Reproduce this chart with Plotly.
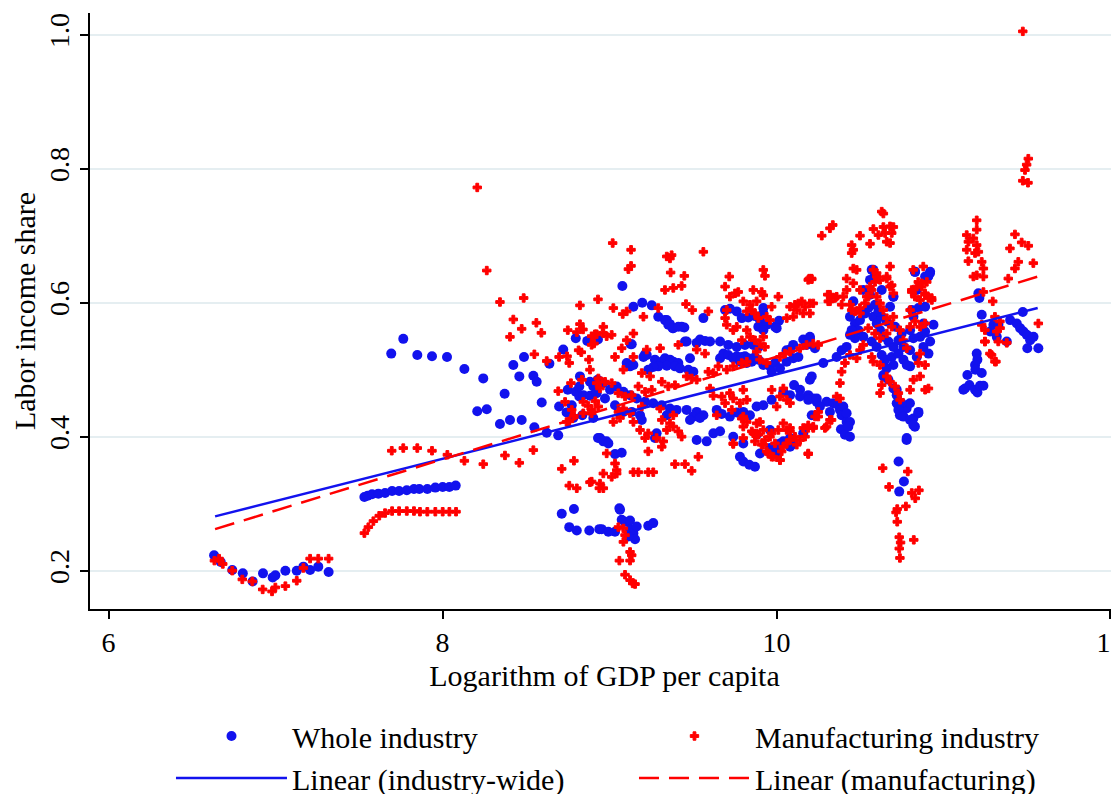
import plotly.graph_objects as go

# ---------------- data ----------------
# Whole industry (blue dots), split by visual clusters
whole_x_a = [6.632, 6.672, 6.741, 6.804, 6.863, 6.925, 6.983, 6.999, 7.059, 7.127, 7.167, 7.207, 7.256, 7.318]
whole_y_a = [0.223, 0.213, 0.201, 0.196, 0.184, 0.196, 0.190, 0.193, 0.200, 0.200, 0.206, 0.201, 0.206, 0.198]

whole_x_b = [7.532, 7.552, 7.578, 7.616, 7.656, 7.698, 7.740, 7.786, 7.829, 7.861, 7.909, 7.957, 8.001, 8.041, 8.079]
whole_y_b = [0.310, 0.312, 0.314, 0.315, 0.316, 0.319, 0.319, 0.320, 0.322, 0.322, 0.322, 0.324, 0.325, 0.325, 0.327]

whole_x_c = [7.765, 7.693, 7.849, 7.937, 8.027, 8.131, 8.244, 8.208, 8.265, 8.372, 8.344, 8.404, 8.474, 8.488, 8.424,
             8.460, 8.544, 8.564, 8.594, 8.550, 8.640, 8.723, 8.798, 8.867, 8.931, 8.624, 8.693, 8.698, 8.750, 8.798,
             8.819, 8.819, 8.843, 8.883, 8.903, 8.774, 8.743, 8.783, 8.837, 8.823, 8.929, 8.903, 8.931]
whole_y_c = [0.546, 0.524, 0.522, 0.520, 0.519, 0.501, 0.487, 0.438, 0.441, 0.464, 0.419, 0.425, 0.425, 0.519, 0.507,
             0.490, 0.491, 0.482, 0.451, 0.414, 0.509, 0.530, 0.547, 0.543, 0.545, 0.406, 0.402, 0.445, 0.470, 0.467,
             0.475, 0.460, 0.462, 0.461, 0.475, 0.447, 0.436, 0.428, 0.432, 0.490, 0.485, 0.428, 0.398]

whole_x_d = [8.714, 8.787, 8.759, 8.804, 8.879, 8.939, 8.953, 8.993, 9.033, 9.059, 9.063, 9.073, 9.093, 9.123, 9.123,
             9.143, 9.153, 9.163, 9.113, 9.232, 9.262]
whole_y_d = [0.285, 0.292, 0.265, 0.260, 0.260, 0.262, 0.262, 0.258, 0.258, 0.293, 0.291, 0.276, 0.273, 0.275, 0.261,
             0.256, 0.247, 0.266, 0.251, 0.267, 0.271]

whole_x_e = [9.077, 9.143, 9.196, 9.253, 9.292, 9.332, 9.352, 9.382, 9.432, 9.452, 9.562, 9.127, 9.213, 9.343, 9.362,
             9.378, 9.412, 9.448, 9.692, 9.721, 9.762, 9.792, 9.831, 9.871, 9.921, 9.921, 9.901, 9.941, 9.891, 9.921,
             9.991, 10.015, 10.001]
whole_y_e = [0.625, 0.594, 0.600, 0.596, 0.579, 0.574, 0.567, 0.562, 0.564, 0.542, 0.577, 0.538, 0.523, 0.574, 0.568,
             0.562, 0.564, 0.563, 0.589, 0.591, 0.587, 0.577, 0.578, 0.580, 0.592, 0.584, 0.574, 0.567, 0.564, 0.559,
             0.564, 0.573, 0.562]

whole_x_f = [9.542, 9.572, 9.602, 9.522, 9.462, 9.662, 9.711, 9.762, 9.811, 9.861, 9.891, 9.133, 10.20, 10.16, 10.18,
             10.10, 10.08, 10.06, 9.223, 9.272, 9.313, 9.332, 9.362, 9.382, 9.412, 9.343, 9.392, 9.292, 9.262, 9.232,
             9.103, 9.123, 9.143, 9.203, 9.482, 9.472, 9.502, 9.422, 9.662, 9.682, 9.711, 9.741, 9.762, 9.792, 9.811,
             9.831, 9.781, 9.822, 9.852, 9.871, 9.891, 9.921, 9.961, 9.991, 10.021, 9.971, 10.061, 10.101, 10.131]
whole_y_f = [0.545, 0.543, 0.542, 0.540, 0.542, 0.542, 0.537, 0.534, 0.537, 0.537, 0.533, 0.538, 0.549, 0.545, 0.537,
             0.537, 0.530, 0.529, 0.522, 0.515, 0.512, 0.517, 0.515, 0.512, 0.510, 0.506, 0.505, 0.505, 0.504, 0.500,
             0.510, 0.505, 0.507, 0.519, 0.517, 0.500, 0.497, 0.502, 0.517, 0.524, 0.522, 0.517, 0.520, 0.519, 0.520,
             0.517, 0.512, 0.510, 0.512, 0.519, 0.515, 0.507, 0.505, 0.510, 0.502, 0.497, 0.512, 0.517, 0.519]

whole_x_g = [10.105, 10.141, 10.19, 10.22, 10.241, 8.883, 8.923, 8.963, 8.923, 8.973, 9.003, 9.043, 9.083, 9.123, 9.163,
             9.213, 9.262, 9.313, 9.362, 9.402, 9.343, 9.033, 9.083, 9.133, 9.183, 9.193, 9.462, 9.522, 9.562, 9.502,
             9.542, 9.482, 9.642, 9.672, 9.721, 9.762, 9.801, 9.841, 9.881, 9.921, 9.971, 10.041, 10.081, 10.141, 10.19,
             10.241]
whole_y_g = [0.477, 0.470, 0.462, 0.457, 0.452, 0.482, 0.477, 0.480, 0.465, 0.457, 0.470, 0.475, 0.467, 0.462, 0.457,
             0.452, 0.450, 0.447, 0.442, 0.440, 0.432, 0.447, 0.437, 0.437, 0.432, 0.425, 0.440, 0.437, 0.432, 0.430,
             0.428, 0.425, 0.440, 0.434, 0.430, 0.436, 0.437, 0.432, 0.445, 0.447, 0.455, 0.467, 0.462, 0.460, 0.455,
             0.457]

whole_x_h = [8.943, 8.982, 9.522, 9.582, 9.622, 9.662, 9.741, 9.801, 9.881, 9.961, 10.021, 10.081, 10.16, 9.282, 9.272,
             8.963, 8.993, 9.033, 9.073, 9.781, 9.801, 9.837, 9.871, 9.901, 9.961, 10.001, 10.011, 10.041, 10.081, 10.091]
whole_y_h = [0.398, 0.393, 0.395, 0.393, 0.405, 0.408, 0.400, 0.390, 0.403, 0.410, 0.390, 0.398, 0.405, 0.405, 0.398,
             0.393, 0.390, 0.374, 0.376, 0.370, 0.363, 0.358, 0.355, 0.375, 0.383, 0.375, 0.385, 0.393, 0.385, 0.388]

whole_x_i = [10.30, 10.34, 10.37, 10.38, 10.40, 10.39, 10.42, 10.42, 10.44, 10.386, 10.41, 10.32, 10.26, 10.211, 10.211,
             10.2, 10.43, 10.44]
whole_y_i = [0.452, 0.450, 0.447, 0.440, 0.445, 0.432, 0.435, 0.422, 0.422, 0.411, 0.403, 0.437, 0.445, 0.432, 0.490,
             0.485, 0.415, 0.400]

whole_x_j = [10.57, 10.59, 10.56, 10.63, 10.70, 10.68, 10.52, 10.46, 10.44, 10.47, 10.50, 10.53, 10.55, 10.58, 10.60,
             10.62, 10.64, 10.67, 10.70, 10.73, 10.75, 10.71, 10.66, 10.63, 10.61, 10.59, 10.49, 10.47, 10.52, 10.57,
             10.60, 10.63, 10.65, 10.69, 10.73, 10.76, 10.80, 10.76, 10.70, 10.66, 10.64, 10.80, 10.84, 10.88, 10.91,
             10.92, 10.86, 10.82, 10.80, 10.82, 10.85, 10.89, 10.81, 10.84, 10.89, 10.92, 10.83, 10.94, 10.88, 10.89,
             10.78, 10.20, 10.23, 10.28, 10.36, 10.39, 10.42, 10.44, 10.45, 10.58, 10.829, 10.919, 10.909, 10.56, 10.70]
whole_y_j = [0.649, 0.641, 0.634, 0.619, 0.609, 0.594, 0.619, 0.602, 0.579, 0.569, 0.574, 0.584, 0.592, 0.579, 0.569,
             0.559, 0.549, 0.542, 0.534, 0.544, 0.554, 0.564, 0.572, 0.579, 0.587, 0.597, 0.559, 0.547, 0.549, 0.542,
             0.534, 0.522, 0.515, 0.519, 0.524, 0.534, 0.529, 0.515, 0.507, 0.502, 0.492, 0.505, 0.519, 0.534, 0.524,
             0.542, 0.549, 0.547, 0.559, 0.579, 0.592, 0.594, 0.589, 0.619, 0.639, 0.646, 0.646, 0.567, 0.569, 0.557,
             0.507, 0.547, 0.532, 0.510, 0.519, 0.529, 0.534, 0.552, 0.559, 0.649, 0.646, 0.644, 0.639, 0.612, 0.609]

whole_x_k = [10.64, 10.67, 10.70, 10.72, 10.72, 10.729, 10.739, 10.779, 10.799, 10.819, 10.829, 10.849, 10.779, 10.731,
             10.763, 10.735, 10.72, 10.75, 10.73, 10.76, 10.80, 10.82, 10.85, 10.78]
whole_y_k = [0.490, 0.485, 0.472, 0.462, 0.450, 0.447, 0.432, 0.442, 0.450, 0.427, 0.415, 0.435, 0.395, 0.363,
             0.333, 0.318, 0.470, 0.450, 0.440, 0.430, 0.425, 0.417, 0.437, 0.398]

whole_x_l = [11.209, 11.215, 11.229, 11.475, 11.279, 11.299, 11.329, 11.319, 11.379, 11.399, 11.439, 11.459, 11.479,
             11.499, 11.519, 11.539, 11.502, 11.568, 11.199, 11.203, 11.189, 11.191, 11.229, 11.143, 11.129, 11.119,
             11.155, 11.189, 11.203, 11.219, 11.239]
whole_y_l = [0.614, 0.607, 0.582, 0.586, 0.557, 0.567, 0.567, 0.549, 0.542, 0.574, 0.569, 0.562, 0.557,
             0.552, 0.544, 0.549, 0.532, 0.532, 0.524, 0.515, 0.507, 0.500, 0.495, 0.492, 0.472, 0.470,
             0.477, 0.470, 0.466, 0.476, 0.476]

# Manufacturing industry (red markers)
manuf_x_a = [6.634, 6.662, 6.684, 6.741, 6.801, 6.861, 6.923, 6.979, 6.999, 7.059, 7.127, 7.167, 7.207, 7.256, 7.318]
manuf_y_a = [0.215, 0.218, 0.210, 0.200, 0.187, 0.184, 0.172, 0.169, 0.175, 0.177, 0.185, 0.204, 0.218, 0.218, 0.218]

manuf_x_b = [7.532, 7.556, 7.586, 7.621, 7.656, 7.698, 7.740, 7.786, 7.829, 7.865, 7.909, 7.957, 8.001, 8.041, 8.081]
manuf_y_b = [0.256, 0.265, 0.274, 0.282, 0.286, 0.289, 0.289, 0.289, 0.289, 0.288, 0.288, 0.288, 0.288, 0.288, 0.288]

manuf_x_c = [7.696, 7.765, 7.849, 7.937, 8.029, 8.131, 8.244, 8.374, 8.460, 8.544, 8.714, 8.787, 8.759, 8.804, 8.883, 8.939]
manuf_y_c = [0.379, 0.383, 0.383, 0.379, 0.373, 0.364, 0.359, 0.372, 0.361, 0.380, 0.352, 0.364, 0.327, 0.323, 0.332, 0.323]

manuf_x_d = [8.208, 8.265, 8.344, 8.486, 8.424, 8.562, 8.474, 8.592, 8.404, 8.550, 8.624, 8.698, 8.746, 8.759, 8.750,
             8.804, 8.841, 8.823, 8.823, 8.931, 8.815, 8.831, 8.877, 8.883, 8.769, 8.835, 8.693, 8.734, 8.843, 8.873,
             8.915, 8.923, 8.923, 8.893, 8.907, 8.774, 8.787, 8.743, 8.843, 8.893, 8.759]
manuf_y_d = [0.772, 0.648, 0.601, 0.607, 0.575, 0.570, 0.561, 0.555, 0.549, 0.523, 0.513, 0.519, 0.520, 0.510, 0.559,
             0.556, 0.560, 0.596, 0.568, 0.605, 0.529, 0.526, 0.515, 0.500, 0.480, 0.485, 0.468, 0.452, 0.452, 0.446,
             0.453, 0.480, 0.553, 0.537, 0.539, 0.440, 0.431, 0.422, 0.435, 0.435, 0.423]

manuf_x_e = [9.019, 9.129, 9.113, 9.129, 9.343, 9.372, 9.362, 9.366, 9.332, 9.382, 9.432, 9.448, 9.562, 9.023, 9.079,
             9.103, 9.203, 9.143, 9.013, 8.959, 8.913, 9.103, 9.073, 9.223, 9.458, 9.496, 9.592, 9.292]
manuf_y_e = [0.689, 0.679, 0.650, 0.655, 0.669, 0.671, 0.666, 0.645, 0.619, 0.622, 0.625, 0.640, 0.676, 0.592, 0.583,
             0.587, 0.579, 0.554, 0.552, 0.555, 0.553, 0.544, 0.532, 0.530, 0.598, 0.589, 0.587, 0.592]

manuf_x_f = [9.717, 9.692, 9.752, 9.771, 9.721, 9.801, 9.841, 9.881, 9.861, 9.921, 9.931, 9.911, 9.921, 9.971, 10.011,
             9.822, 9.852, 9.871, 9.891, 9.941, 9.961, 9.702, 9.692, 9.702, 9.741, 9.762, 9.822, 9.792, 9.841, 9.871,
             9.901, 9.921, 9.931, 9.881, 10.081, 10.111, 10.131, 10.151, 10.171, 10.121, 10.16, 10.2, 10.19, 10.21,
             10.061, 10.101]
manuf_y_f = [0.639, 0.624, 0.614, 0.616, 0.609, 0.602, 0.597, 0.602, 0.619, 0.649, 0.640, 0.616, 0.611, 0.594, 0.609,
             0.587, 0.589, 0.584, 0.577, 0.579, 0.574, 0.589, 0.577, 0.567, 0.559, 0.564, 0.559, 0.544, 0.549, 0.544,
             0.539, 0.549, 0.534, 0.527, 0.594, 0.597, 0.599, 0.602, 0.594, 0.589, 0.584, 0.599, 0.634, 0.636,
             0.577, 0.579]

manuf_x_g = [8.893, 8.963, 8.983, 9.143, 9.033, 9.083, 9.193, 9.243, 9.303, 9.412, 9.522, 9.572, 9.313, 9.352, 9.392,
             9.462, 9.492, 9.522, 9.592, 9.622, 9.652, 9.702, 9.741, 9.792, 9.822, 9.901, 9.941, 10.021, 10.051, 10.081,
             10.141, 10.18, 10.22, 10.25, 8.933, 8.973, 9.013, 8.943, 9.053, 9.093, 9.133, 9.173, 9.213, 9.253]
manuf_y_g = [0.550, 0.564, 0.550, 0.519, 0.519, 0.500, 0.495, 0.490, 0.532, 0.537, 0.530, 0.524, 0.482, 0.475, 0.477,
             0.490, 0.487, 0.485, 0.497, 0.495, 0.505, 0.500, 0.505, 0.510, 0.512, 0.515, 0.510, 0.519, 0.524, 0.527,
             0.532, 0.537, 0.539, 0.537, 0.487, 0.482, 0.480, 0.472, 0.465, 0.460, 0.462, 0.475, 0.467, 0.470]

manuf_x_h = [8.893, 8.933, 9.023, 9.063, 9.143, 9.193, 9.303, 9.382, 9.313, 9.362, 9.343, 9.382, 9.412, 9.282, 9.322,
             9.432, 9.602, 9.622, 9.672, 9.721, 9.741, 9.781, 9.822, 9.642, 9.692, 9.732, 9.801, 9.822, 9.881, 9.921,
             9.971, 10.011, 10.041, 10.081, 10.111, 10.16, 10.19, 10.231, 9.741, 9.801, 9.852, 9.881, 9.931, 9.991,
             10.061, 10.121, 9.083, 9.123, 9.053, 9.183, 9.232, 9.213]
manuf_y_h = [0.440, 0.445, 0.422, 0.428, 0.422, 0.445, 0.442, 0.432, 0.425, 0.420, 0.410, 0.415, 0.408, 0.398, 0.393,
             0.400, 0.472, 0.461, 0.460, 0.465, 0.457, 0.450, 0.455, 0.432, 0.450, 0.440, 0.430, 0.422, 0.420, 0.410,
             0.405, 0.410, 0.420, 0.408, 0.400, 0.413, 0.417, 0.430, 0.390, 0.398, 0.408, 0.405, 0.395, 0.390,
             0.390, 0.388, 0.442, 0.435, 0.437, 0.410, 0.405, 0.398]

manuf_x_i = [8.983, 8.963, 9.013, 9.033, 9.043, 9.043, 8.943, 8.963, 8.893, 9.143, 9.173, 9.232, 9.262, 9.232, 9.313,
             9.392, 9.452, 9.492, 9.532, 9.741, 9.871, 9.921, 9.941, 9.971, 10.021, 10.19, 9.053, 9.083, 9.093, 9.083,
             9.123, 9.133, 9.123, 9.059, 9.093, 9.123, 9.139, 9.153]
manuf_y_i = [0.375, 0.345, 0.340, 0.360, 0.350, 0.345, 0.330, 0.323, 0.333, 0.347, 0.347, 0.347, 0.347, 0.378, 0.385,
             0.359, 0.359, 0.349, 0.370, 0.389, 0.393, 0.388, 0.378, 0.370, 0.365, 0.374, 0.265, 0.263, 0.253, 0.243,
             0.228, 0.223, 0.215, 0.215, 0.194, 0.186, 0.181, 0.180]

manuf_x_j = [9.801, 9.792, 9.801, 9.861, 9.891, 9.901, 9.961, 9.971, 10.001, 10.021, 10.041, 10.061, 10.081, 10.061,
             10.081, 10.081, 10.041, 10.031, 10.021, 9.981, 9.951, 9.911, 10.141, 10.171, 10.19, 10.22, 10.25, 10.25,
             10.3, 10.33, 10.36, 10.38, 10.19, 10.22, 10.29, 10.32, 10.38]
manuf_y_j = [0.470, 0.427, 0.415, 0.405, 0.403, 0.422, 0.400, 0.470, 0.445, 0.460, 0.472, 0.455, 0.450, 0.410,
             0.413, 0.395, 0.385, 0.378, 0.365, 0.370, 0.375, 0.388, 0.395, 0.400, 0.413, 0.415, 0.437, 0.430,
             0.415, 0.425, 0.460, 0.457, 0.375, 0.413, 0.413, 0.425, 0.480]

manuf_x_k = [10.63, 10.64, 10.337, 10.32, 10.271, 10.58, 10.64, 10.68, 10.70, 10.50, 10.61, 10.65, 10.69, 10.45, 10.46,
             10.45, 10.56, 10.66, 10.68, 10.196, 10.211, 10.307, 10.36, 10.32, 10.44, 10.47, 10.50, 10.58, 10.60, 10.59,
             10.66, 10.68, 10.69, 10.70, 10.57, 10.54, 10.819, 10.879, 10.849, 10.869, 10.889, 10.81, 10.829, 10.929]
manuf_y_k = [0.736, 0.733, 0.716, 0.711, 0.700, 0.710, 0.713, 0.714, 0.713, 0.700, 0.701, 0.704, 0.704, 0.686, 0.679,
             0.674, 0.688, 0.691, 0.689, 0.636, 0.635, 0.612, 0.609, 0.602, 0.597, 0.587, 0.584, 0.649, 0.639, 0.631,
             0.636, 0.654, 0.626, 0.614, 0.619, 0.609, 0.649, 0.654, 0.631, 0.624, 0.614, 0.619, 0.609, 0.607]

manuf_x_l = [10.46, 10.48, 10.42, 10.46, 10.50, 10.42, 10.40, 10.35, 10.32, 10.31, 10.39, 10.45, 10.50, 10.53, 10.55,
             10.56, 10.60, 10.62, 10.66, 10.68, 10.60, 10.62, 10.64, 10.66, 10.70, 10.69, 10.66, 10.62, 10.59, 10.55,
             10.52, 10.50, 10.48, 10.41, 10.39, 10.44, 10.58, 10.57, 10.62, 10.66, 10.63, 10.62, 10.68, 10.71, 10.73,
             10.74, 10.80, 10.82, 10.86, 10.89, 10.91, 10.85, 10.89, 10.86, 10.89, 10.86, 10.83, 10.80, 10.80, 10.86,
             10.89, 10.91, 10.84, 10.81, 10.87, 10.90, 10.93, 10.74, 10.76, 10.78, 10.22, 10.20]
manuf_y_l = [0.651, 0.649, 0.636, 0.629, 0.619, 0.619, 0.609, 0.607, 0.612, 0.602, 0.597, 0.589, 0.592, 0.599, 0.609,
             0.624, 0.644, 0.634, 0.639, 0.624, 0.609, 0.599, 0.589, 0.577, 0.579, 0.564, 0.554, 0.547, 0.554, 0.562,
             0.537, 0.529, 0.517, 0.510, 0.497, 0.522, 0.512, 0.519, 0.507, 0.490, 0.477, 0.465, 0.482, 0.475, 0.465,
             0.455, 0.470, 0.485, 0.490, 0.470, 0.472, 0.510, 0.507, 0.524, 0.569, 0.564, 0.572, 0.564, 0.589, 0.604,
             0.612, 0.607, 0.624, 0.616, 0.629, 0.631, 0.604, 0.559, 0.544, 0.532, 0.599, 0.584]

manuf_x_m = [10.636, 10.786, 10.674, 10.81, 10.853, 10.831, 10.775, 10.723, 10.716, 10.723, 10.735, 10.743, 10.735,
             10.739, 10.822]
manuf_y_m = [0.353, 0.348, 0.325, 0.316, 0.320, 0.308, 0.296, 0.292, 0.287, 0.273, 0.250, 0.242, 0.233,
             0.219, 0.246]

manuf_x_n = [11.199, 11.199, 11.139, 11.179, 11.149, 11.199, 11.139, 11.189, 11.209, 11.149, 11.229, 11.239, 11.179,
             11.199, 11.239, 11.428, 11.468, 11.398, 11.508, 11.448, 11.428, 11.538, 11.388, 11.239, 11.295, 11.308,
             11.338, 11.328, 11.278, 11.308, 11.248, 11.568, 11.248, 11.229, 11.248, 11.288, 11.314, 11.379, 11.319,
             11.339, 11.475, 11.508, 11.498, 11.488, 11.475, 11.506]
manuf_y_n = [0.723, 0.709, 0.701, 0.696, 0.691, 0.686, 0.679, 0.674, 0.676, 0.662, 0.661, 0.651, 0.639,
             0.641, 0.639, 0.702, 0.690, 0.681, 0.685, 0.661, 0.651, 0.659, 0.636, 0.616, 0.602, 0.579,
             0.572, 0.542, 0.524, 0.512, 0.542, 0.569, 0.559, 0.567, 0.542, 0.522, 0.512, 0.540, 0.557,
             0.562, 1.005, 0.815, 0.806, 0.798, 0.782, 0.779]

# Fitted lines (end points)
fit_x = [6.638, 11.564]
fit_whole = [0.281, 0.592]
fit_manuf = [0.262, 0.639]

# Axis ticks
x_ticks = [6, 8, 10, 12]
y_ticks = [0.2, 0.4, 0.6, 0.8, 1.0]
y_tick_text = ["0.2", "0.4", "0.6", "0.8", "1.0"]

# ---------------- assemble ----------------
whole_groups = [(whole_x_a, whole_y_a), (whole_x_b, whole_y_b), (whole_x_c, whole_y_c), (whole_x_d, whole_y_d),
                (whole_x_e, whole_y_e), (whole_x_f, whole_y_f), (whole_x_g, whole_y_g), (whole_x_h, whole_y_h),
                (whole_x_i, whole_y_i), (whole_x_j, whole_y_j), (whole_x_k, whole_y_k), (whole_x_l, whole_y_l)]
manuf_groups = [(manuf_x_a, manuf_y_a), (manuf_x_b, manuf_y_b), (manuf_x_c, manuf_y_c), (manuf_x_d, manuf_y_d),
                (manuf_x_e, manuf_y_e), (manuf_x_f, manuf_y_f), (manuf_x_g, manuf_y_g), (manuf_x_h, manuf_y_h),
                (manuf_x_i, manuf_y_i), (manuf_x_j, manuf_y_j), (manuf_x_k, manuf_y_k), (manuf_x_l, manuf_y_l),
                (manuf_x_m, manuf_y_m), (manuf_x_n, manuf_y_n)]

wx, wy, mx, my = [], [], [], []
for i, (gx, gy) in enumerate(whole_groups):
    assert len(gx) == len(gy), ("whole", i, len(gx), len(gy))
    wx += gx
    wy += gy
for i, (gx, gy) in enumerate(manuf_groups):
    assert len(gx) == len(gy), ("manuf", i, len(gx), len(gy))
    mx += gx
    my += gy

BLUE = "rgb(18,18,238)"
RED = "rgb(255,0,0)"
FONT = "Liberation Serif"

fig = go.Figure()
fig.add_trace(go.Scatter(x=wx, y=wy, mode="markers", name="Whole industry",
                         marker=dict(color=BLUE, size=10, symbol="circle", line=dict(width=0))))
fig.add_trace(go.Scatter(x=mx, y=my, mode="markers", name="Manufacturing industry",
                         marker=dict(color=RED, size=7, symbol="cross", line=dict(width=1, color=RED))))
fig.add_trace(go.Scatter(x=fit_x, y=fit_whole, mode="lines", name="Linear (industry-wide)",
                         line=dict(color=BLUE, width=2.5)))
fig.add_trace(go.Scatter(x=fit_x, y=fit_manuf, mode="lines", name="Linear (manufacturing)",
                         line=dict(color=RED, width=2.5, dash="20px,10px")))

# The page body adds an 8px offset, so the figure is 8px smaller and margins shifted accordingly.
fig.update_layout(
    template="none",
    width=1111, height=786,
    margin=dict(l=82, r=0, t=5, b=185, autoexpand=False),
    paper_bgcolor="white", plot_bgcolor="white",
    font=dict(family=FONT, color="black", size=28),
    showlegend=True,
    legend=dict(orientation="h", x=0.0787, xanchor="left", y=-0.1695, yanchor="top",
                entrywidth=337, entrywidthmode="pixels", font=dict(family=FONT, size=30, color="black"),
                bgcolor="rgba(0,0,0,0)", borderwidth=0, itemwidth=111, tracegroupgap=0),
    xaxis=dict(range=[5.889, 12.051], tickmode="array", tickvals=x_ticks, ticks="outside", ticklen=8,
               tickwidth=1.5, tickcolor="black", showline=True, linecolor="black", linewidth=1.5,
               showgrid=False, zeroline=False, automargin=False, ticklabeloverflow="allow",
               tickfont=dict(family=FONT, size=28, color="black"),
               title=dict(text="Logarithm of GDP per capita", font=dict(family=FONT, size=30, color="black"),
                          standoff=8)),
    yaxis=dict(range=[0.1428, 1.0324], tickmode="array", tickvals=y_ticks, ticktext=y_tick_text, tickangle=-90,
               ticks="outside", ticklen=8, tickwidth=1.5, tickcolor="black", showline=True, linecolor="black",
               linewidth=1.5, showgrid=True, gridcolor="#e5eef1", gridwidth=2, zeroline=False, automargin=False,
               tickfont=dict(family=FONT, size=28, color="black"),
               title=dict(text="Labor income share", font=dict(family=FONT, size=30, color="black"), standoff=6)),
)

fig.write_html("out.html")
